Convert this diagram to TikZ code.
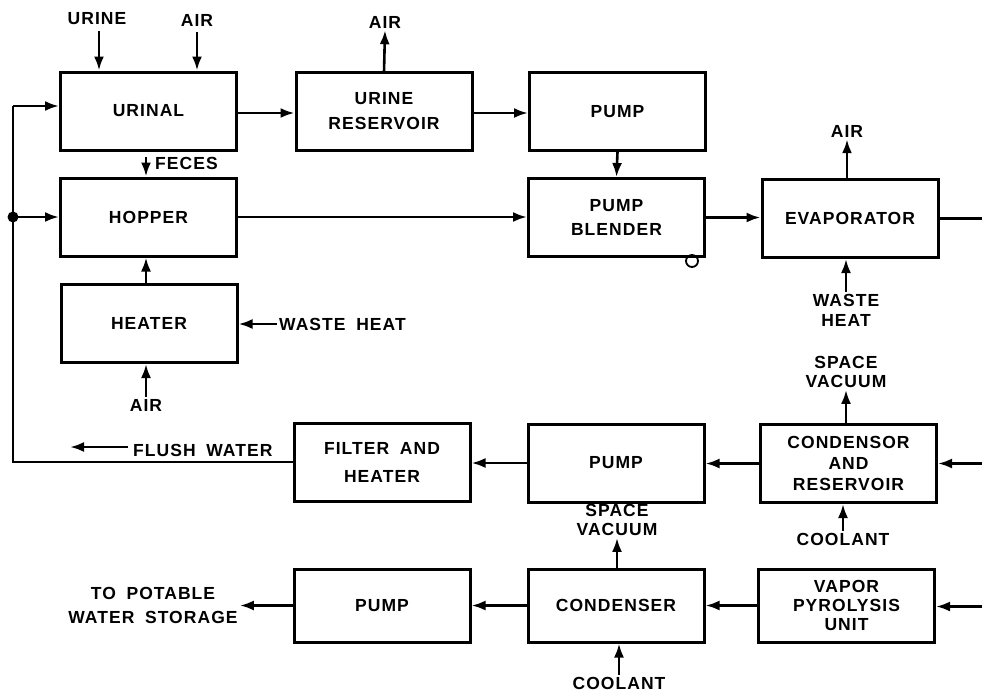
\documentclass[tikz,border=0pt]{standalone}
\usepackage{fontspec}
\setmainfont{Liberation Sans}[LetterSpace=6, WordSpace=1.8]
\usetikzlibrary{arrows.meta}
\newcommand\dgfont{\bfseries\fontsize{17.5}{21}\selectfont}
\begin{document}
\begin{tikzpicture}[x=1pt,y=-1pt,
  box/.style={draw, line width=3pt, minimum width=176pt, minimum height=78pt, align=center, inner sep=0pt, font=\dgfont},
  lowbox/.style={box, minimum height=73pt},
  lbl/.style={align=center, inner sep=2pt, font=\dgfont},
  ln/.style={line width=2.6pt},
  arr/.style={line width=2.6pt, -{Latex[length=14pt,width=10pt]}}]
\useasboundingbox (0,0) rectangle (982,694);
% boxes
\node[box] (urinal) at (148.5,111) {URINAL};
\node[box] (ureserv) at (384,111) {URINE\\[4pt]RESERVOIR};
\node[box] (pump1) at (617.5,111.5) {PUMP};
\node[box] (hopper) at (148.5,217) {HOPPER};
\node[box] (blender) at (616.5,217.5) {PUMP\\[3pt]BLENDER};
\node[box] (evap) at (850,218.5) {EVAPORATOR};
\node[box] (heater) at (149,323.5) {HEATER};
\node[box] (filter) at (382,462) {FILTER AND\\[7pt]HEATER};
\node[box] (pump2) at (616,463) {PUMP};
\node[box] (condres) at (848.5,463.5) {CONDENSOR\\AND\\RESERVOIR};
\node[lowbox] (pump3) at (382,605.5) {PUMP};
\node[lowbox] (condenser) at (616,605.5) {CONDENSER};
\node[lowbox] (vapor) at (846.5,605.5) {VAPOR\\[-2pt]PYROLYSIS\\[-2pt]UNIT};
% labels
\node[lbl] (urineL) at (97,19) {URINE};
\node[lbl] (airL1) at (197,20) {AIR};
\node[lbl] (airL2) at (385,22) {AIR};
\node[lbl, anchor=west] (fecesL) at (153,163) {FECES};
\node[lbl, anchor=west] (wheatL) at (277,324) {WASTE HEAT};
\node[lbl] (airL3) at (146,405) {AIR};
\node[lbl, anchor=west] (flushL) at (131,450) {FLUSH WATER};
\node[lbl] (airL4) at (847,131) {AIR};
\node[lbl] (wheatL2) at (846,310) {WASTE\\[-1pt]HEAT};
\node[lbl] (svacL1) at (846,372) {SPACE\\[-2pt]VACUUM};
\node[lbl] (coolL1) at (843,539) {COOLANT};
\node[lbl] (svacL2) at (617,520) {SPACE\\[-2pt]VACUUM};
\node[lbl] (coolL2) at (619,683) {COOLANT};
\node[lbl] (potL) at (153,605) {TO POTABLE\\[3pt]WATER STORAGE};
% coordinates
\coordinate (lb) at (13,462);
\coordinate (lt) at (13,106);
\coordinate (jn) at (13,217);
\coordinate (fecesS) at (146,157);
\coordinate (fw1) at (128,447);
\coordinate (fw2) at (70,447);
\coordinate (rE) at (982,218.5);
\coordinate (rC) at (982,463.5);
\coordinate (rV) at (982,606.5);
% loop
\draw[ln] (filter.west) -- (lb) -- (lt);
\draw[arr] (lt) -- (lt -| urinal.west);
\draw[arr] (jn) -- (hopper.west);
\fill (jn) circle (5.5pt);
\draw[arr] (fw1) -- (fw2);
% main flow
\draw[arr] (urinal.east |- 0,113) -- (ureserv.west |- 0,113);
\draw[arr] (ureserv.east |- 0,113) -- (pump1.west |- 0,113);
\draw[arr] (pump1.south) -- (blender.north);
\draw[arr] (hopper.east) -- (blender.west |- hopper.east);
\draw[arr] (blender.east) -- (evap.west |- blender.east);
\draw[ln] (evap.east) -- (rE);
\draw[arr] (rC) -- (condres.east);
\draw[arr] (condres.west) -- (pump2.east |- condres.west);
\draw[arr] (pump2.west) -- (filter.east |- pump2.west);
\draw[arr] (rV) -- (vapor.east |- rV);
\draw[arr] (vapor.west) -- (condenser.east |- vapor.west);
\draw[arr] (condenser.west) -- (pump3.east |- condenser.west);
\draw[arr] (pump3.west) -- (potL.east |- pump3.west);
% side inputs and outputs
\draw[arr] (urineL.south) ++(2,4) coordinate (u1) (u1) -- (u1 |- urinal.north);
\draw[arr] (airL1.south) ++(0,4) coordinate (a1) (a1) -- (a1 |- urinal.north);
\draw[arr] (ureserv.north |- 0,72) -- (airL2.south);
\draw[arr] (fecesS) -- (fecesS |- hopper.north);
\draw[arr] (heater.north -| 146,0) -- (hopper.south -| 146,0);
\draw[arr] (wheatL.west) -- (heater.east |- wheatL.west);
\draw[arr] (airL3.north) -- (airL3.north |- heater.south);
\draw[arr] (airL4.south |- evap.north) -- (airL4.south);
\draw[arr] (wheatL2.north) -- (wheatL2.north |- evap.south);
\draw[arr] (svacL1.south |- condres.north) -- (svacL1.south);
\draw[arr] (coolL1.north) -- (coolL1.north |- condres.south);
\draw[arr] (svacL2.south |- condenser.north) -- (svacL2.south);
\draw[arr] (coolL2.north) -- (coolL2.north |- condenser.south);
% small circle on blender
\draw[line width=1.8pt] (692,261) circle (6pt);
\end{tikzpicture}
\end{document}
